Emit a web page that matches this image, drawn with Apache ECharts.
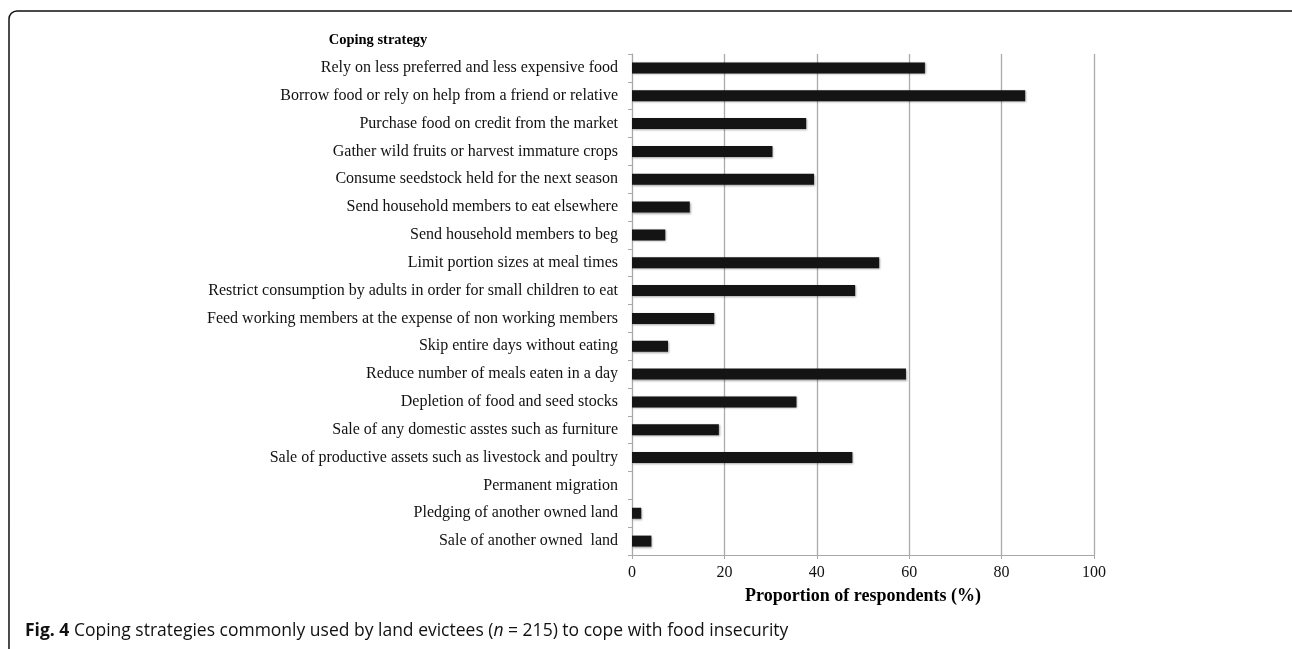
<!DOCTYPE html>
<html>
<head>
<meta charset="utf-8">
<script src="https://cdn.jsdelivr.net/npm/echarts@6/dist/echarts.min.js"></script>
<style>
html,body{margin:0;padding:0;background:#fff;}
#c{width:1292px;height:649px;}
</style>
</head>
<body>
<div id="c"></div>
<script>
const categories = [
  "Rely on less preferred and less expensive food",
  "Borrow food or rely on help from a friend or relative",
  "Purchase food on credit from the market",
  "Gather wild fruits or harvest immature crops",
  "Consume seedstock held for the next season",
  "Send household members to eat elsewhere",
  "Send household members to beg",
  "Limit portion sizes at meal times",
  "Restrict consumption by adults in order for small children to eat",
  "Feed working members at the expense of non working members",
  "Skip entire days without eating",
  "Reduce number of meals eaten in a day",
  "Depletion of food and seed stocks",
  "Sale of any domestic asstes such as furniture",
  "Sale of productive assets such as livestock and poultry",
  "Permanent migration",
  "Pledging of another owned land",
  "Sale of another owned  land"
];
const values = [63.4, 85.1, 37.7, 30.4, 39.4, 12.5, 7.2, 53.5, 48.3, 17.8, 7.8, 59.3, 35.6, 18.8, 47.7, 0, 2.0, 4.2];
const xTicks = [0, 20, 40, 60, 80, 100];

const chart = echarts.init(document.getElementById('c'));
const serif = '"Liberation Serif", "Times New Roman", serif';
const sans = '"Open Sans", "Noto Sans", sans-serif';
chart.setOption({
  animation: false,
  backgroundColor: '#fff',
  grid: {left: 632, right: 198, top: 54, bottom: 94, containLabel: false},
  xAxis: {
    type: 'value', min: xTicks[0], max: xTicks[xTicks.length-1], interval: 20,
    name: 'Proportion of respondents (%)', nameLocation: 'middle', nameGap: 32,
    nameTextStyle: {fontFamily: serif, fontWeight: 'bold', fontSize: 18, color: '#000'},
    axisLine: {show: true, lineStyle: {color: '#a8a8a8', width: 1}},
    axisTick: {show: true, length: 4, lineStyle: {color: '#a8a8a8'}},
    axisLabel: {fontFamily: serif, fontSize: 16, color: '#111', margin: 10},
    splitLine: {show: true, lineStyle: {color: '#aaaaaa', width: 1.3}}
  },
  yAxis: {
    type: 'category', data: categories, inverse: true,
    axisLine: {show: true, lineStyle: {color: '#a8a8a8', width: 1}},
    axisTick: {show: true, length: 4, alignWithLabel: false, lineStyle: {color: '#a8a8a8'}},
    axisLabel: {fontFamily: serif, fontSize: 16, color: '#111', margin: 14},
    splitLine: {show: false}
  },
  series: [{
    type: 'bar', data: values, barWidth: 11,
    itemStyle: {color: '#141414', shadowColor: 'rgba(0,0,0,0.35)', shadowBlur: 2, shadowOffsetX: 1, shadowOffsetY: 1}
  }],
  graphic: [
    {type: 'rect', shape: {x: 9, y: 11, width: 1320, height: 700, r: 8}, style: {fill: 'none', stroke: '#111', lineWidth: 1.5}, silent: true},
    {type: 'text', x: 378, y: 40, style: {text: 'Coping strategy', fontFamily: serif, fontWeight: 'bold', fontSize: 14.5, fill: '#000', align: 'center', verticalAlign: 'middle'}},
    {type: 'text', left: 25, top: 622, style: {
      rich: {b: {fontFamily: sans, fontWeight: 'bold', fontSize: 17.5, fill: '#111'},
             n: {fontFamily: sans, fontSize: 17.5, fill: '#111'},
             i: {fontFamily: sans, fontStyle: 'italic', fontSize: 17.5, fill: '#111'}},
      text: '{b|Fig. 4}{n| Coping strategies commonly used by land evictees (}{i|n}{n| = 215) to cope with food insecurity}'
    }}
  ]
});
</script>
</body>
</html>
